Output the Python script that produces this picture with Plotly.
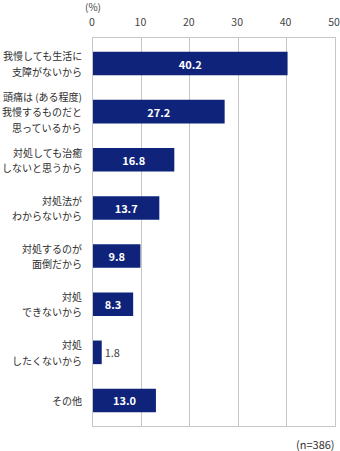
import plotly.graph_objects as go

# Reasons for not treating headaches (multiple lines per label)
label_lines = [
    ["我慢しても生活に", "支障がないから"],
    ["頭痛は (ある程度)", "我慢するものだと", "思っているから"],
    ["対処しても治癒", "しないと思うから"],
    ["対処法が", "わからないから"],
    ["対処するのが", "面倒だから"],
    ["対処", "できないから"],
    ["対処", "したくないから"],
    ["その他"],
]
values = [40.2, 27.2, 16.8, 13.7, 9.8, 8.3, 1.8, 13.0]
x_ticks = [0, 10, 20, 30, 40, 50]
unit_label = "(%)"
sample_note = "(n=386)"

categories = ["".join(lines) for lines in label_lines]

FONT = "Noto Sans CJK JP"
BAR_COLOR = "#0f237a"
GRID = "#c6c6c6"
TEXT = "#333333"

fig = go.Figure(
    go.Bar(
        x=values,
        y=categories,
        orientation="h",
        marker=dict(color=BAR_COLOR, line=dict(width=0)),
        texttemplate="%{x:.1f}",
        textposition="auto",
        insidetextanchor="middle",
        constraintext="none",
        insidetextfont=dict(family=FONT, size=11, color="white", weight="bold"),
        outsidetextfont=dict(family=FONT, size=11, color="#444444"),
        cliponaxis=False,
        hoverinfo="skip",
    )
)

# Category labels, one annotation per line for wider line spacing
line_gap = 15.5
annotations = []
for cat, lines in zip(categories, label_lines):
    n = len(lines)
    for i, line in enumerate(lines):
        annotations.append(
            dict(
                text=line,
                xref="paper", x=0, xanchor="right", xshift=-9,
                yref="y", y=cat, yanchor="middle",
                yshift=((n - 1) / 2 - i) * line_gap,
                showarrow=False,
                font=dict(family=FONT, size=10, color="#2e2e2e"),
            )
        )

annotations.append(
    dict(
        text=unit_label, xref="x", x=0, xanchor="center",
        yref="paper", y=1, yanchor="middle", yshift=32,
        showarrow=False, font=dict(family=FONT, size=10, color="#444444"),
    )
)
annotations.append(
    dict(
        text=sample_note, xref="paper", x=1, xanchor="right", xshift=2,
        yref="paper", y=0, yanchor="middle", yshift=-18,
        showarrow=False, font=dict(family=FONT, size=11, color=TEXT),
    )
)

fig.update_layout(
    width=340,
    height=451,
    margin=dict(l=93, r=5, t=38, b=25, autoexpand=False),
    paper_bgcolor="white",
    plot_bgcolor="white",
    showlegend=False,
    bargap=0.51,
    font=dict(family=FONT, size=10, color=TEXT),
    annotations=annotations,
    xaxis=dict(
        side="top",
        range=[0, 50],
        tickvals=x_ticks,
        ticks="",
        automargin=False,
        ticklabeloverflow="allow",
        ticklabelstandoff=7,
        ticklabelshift=-1,
        tickfont=dict(family=FONT, size=10.5, color="#444444"),
        showgrid=True,
        gridcolor=GRID,
        gridwidth=1,
        zeroline=False,
        showline=True,
        linecolor=GRID,
        linewidth=1,
        mirror=True,
        fixedrange=True,
    ),
    yaxis=dict(
        categoryorder="array",
        categoryarray=categories,
        autorange=False,
        automargin=False,
        range=[len(categories) - 0.47, -0.53],
        showticklabels=False,
        ticks="",
        showgrid=False,
        zeroline=False,
        showline=True,
        linecolor=GRID,
        linewidth=1,
        mirror=True,
        fixedrange=True,
    ),
)

fig.write_html("out.html")
